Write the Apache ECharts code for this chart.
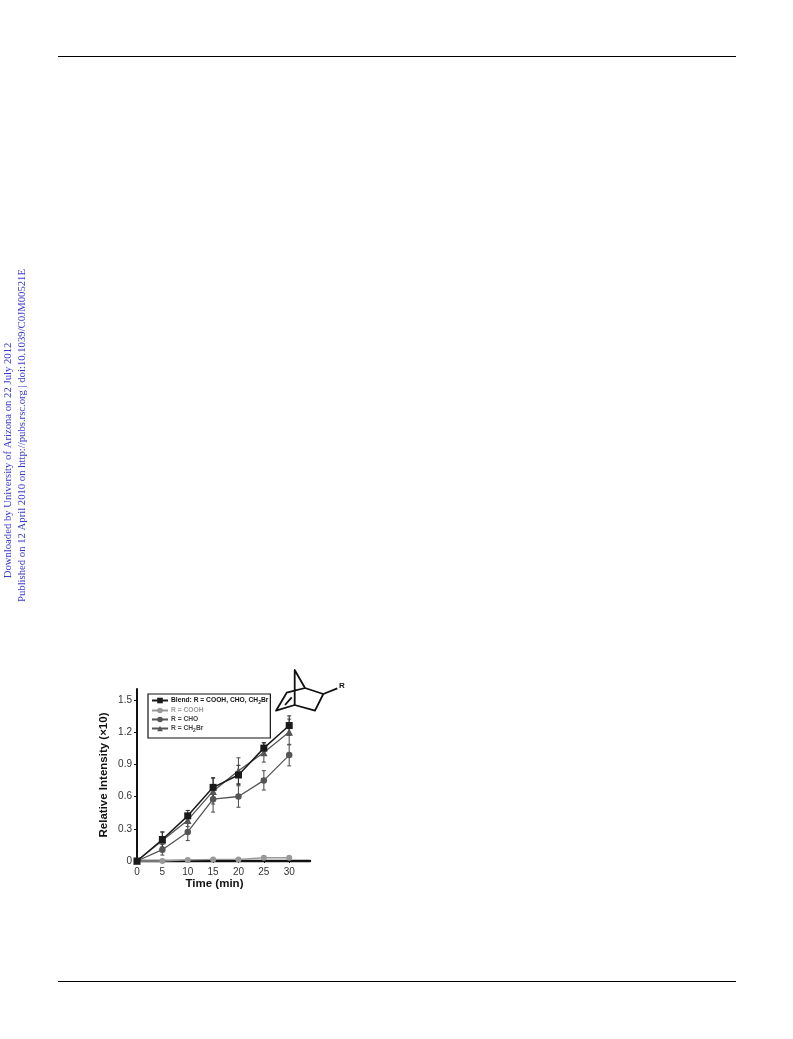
<!DOCTYPE html>
<html>
<head>
<meta charset="utf-8">
<style>html,body{margin:0;padding:0;background:#fff}#c{width:793px;height:1039px}</style>
<script src="https://cdn.jsdelivr.net/npm/echarts@6/dist/echarts.min.js"></script>
</head>
<body>
<div id="c"></div>
<script>
const times = [0, 5, 10, 15, 20, 25, 30];
const yTicks = [0, 0.3, 0.6, 0.9, 1.2, 1.5];
const blend = [0, 0.2, 0.42, 0.685, 0.8, 1.05, 1.26];
const cooh = [0, 0, 0.01, 0.015, 0.015, 0.03, 0.03];
const cho = [0, 0.105, 0.27, 0.575, 0.6, 0.75, 0.985];
const ch2br = [0, 0.19, 0.38, 0.65, 0.84, 1.01, 1.2];
const blendErr = [0, 0.07, 0.05, 0.09, 0.09, 0.05, 0.09];
const choErr = [0, 0.05, 0.08, 0.12, 0.1, 0.09, 0.1];
const ch2brErr = [0, 0.08, 0.06, 0.12, 0.12, 0.09, 0.12];
const names = ['Blend: R = COOH, CHO, CH2Br', 'R = COOH', 'R = CHO', 'R = CH2Br'];

const pairs = v => v.map((y, i) => [times[i], y]);
const errSeries = (vals, errs, color) => ({
  type: 'custom', silent: true, z: 2,
  data: vals.map((y, i) => [times[i], y - errs[i], y + errs[i]]).filter((d, i) => errs[i] > 0),
  renderItem(params, api) {
    const lo = api.coord([api.value(0), api.value(1)]);
    const hi = api.coord([api.value(0), api.value(2)]);
    const st = { stroke: color, lineWidth: 1.1 };
    return { type: 'group', children: [
      { type: 'line', shape: { x1: lo[0], y1: lo[1], x2: hi[0], y2: hi[1] }, style: st },
      { type: 'line', shape: { x1: lo[0] - 2, y1: lo[1], x2: lo[0] + 2, y2: lo[1] }, style: st },
      { type: 'line', shape: { x1: hi[0] - 2, y1: hi[1], x2: hi[0] + 2, y2: hi[1] }, style: st }
    ]};
  }
});
const lineSeries = (name, vals, color, symbol, size, width, z) => ({
  type: 'line', name, data: pairs(vals), symbol, symbolSize: size, z,
  showSymbol: true, animation: false, clip: false,
  lineStyle: { color, width }, itemStyle: { color }
});
const legendRich = c => ({
  n: { color: c, fontSize: 6.7, fontWeight: 'bold', fontFamily: 'Liberation Sans' },
  s: { color: c, fontSize: 5, fontWeight: 'bold', fontFamily: 'Liberation Sans', verticalAlign: 'bottom', padding: [4, 0, 0, 0] }
});
const bond = (pts, w) => ({
  type: 'polyline', silent: true, shape: { points: pts },
  style: { stroke: '#111', lineWidth: w || 1.8, fill: null, lineJoin: 'round' }
});
const sideText = (text, x, y) => ({
  type: 'text', x, y, rotation: Math.PI / 2, silent: true,
  style: { text, fill: '#3a3ad0', font: '10.7px "Liberation Serif"', align: 'center', verticalAlign: 'middle' }
});

const chart = echarts.init(document.getElementById('c'), null, { renderer: 'canvas' });
chart.setOption({
  animation: false,
  backgroundColor: '#fff',
  grid: { left: 137, top: 689, width: 173, height: 172, containLabel: false },
  xAxis: {
    type: 'value', min: 0, max: 34.1, interval: 5,
    name: 'Time (min)', nameLocation: 'middle', nameGap: 17,
    nameTextStyle: { color: '#111', fontSize: 11.5, fontWeight: 'bold', fontFamily: 'Liberation Sans', padding: [0, 18, 0, 0] },
    splitLine: { show: false },
    axisLine: { lineStyle: { color: '#111', width: 2.4 } },
    axisTick: { length: 2, lineStyle: { color: '#111', width: 1 }, customValues: times },
    axisLabel: { color: '#333', fontSize: 10, margin: 6, fontFamily: 'Liberation Sans', customValues: times }
  },
  yAxis: {
    type: 'value', min: 0, max: 1.6, interval: 0.3,
    name: 'Relative Intensity (\u00d710)', nameLocation: 'middle', nameGap: 27,
    nameTextStyle: { color: '#111', fontSize: 11.5, fontWeight: 'bold', fontFamily: 'Liberation Sans' },
    splitLine: { show: false },
    axisLine: { lineStyle: { color: '#111', width: 2 } },
    axisTick: { length: 3, lineStyle: { color: '#111', width: 1 }, customValues: yTicks },
    axisLabel: { color: '#333', fontSize: 10, margin: 5, fontFamily: 'Liberation Sans', customValues: yTicks,
      formatter: v => v === 0 ? '0' : v.toFixed(1) }
  },
  legend: {
    orient: 'vertical', left: 148, top: 694, padding: [3, 2, 5, 3], itemGap: 2,
    itemWidth: 16, itemHeight: 7,
    borderColor: '#111', borderWidth: 1.2, backgroundColor: '#fff', selectedMode: false, z: 5,
    data: names.map((name, i) => {
      const c = ['#111', '#999', '#444', '#444'][i];
      return { name, textStyle: { rich: legendRich(c), color: c } };
    }),
    formatter: name => name.includes('CH2Br')
      ? '{n|' + name.replace('CH2Br', 'CH}{s|2}{n|Br') + '}'
      : '{n|' + name + '}',
    textStyle: { padding: [0, 0, 0, -2] }
  },
  series: [
    errSeries(ch2br, ch2brErr, '#555'),
    errSeries(cho, choErr, '#555'),
    errSeries(blend, blendErr, '#333'),
    lineSeries(names[1], cooh, '#999', 'circle', 6, 1.4, 3),
    lineSeries(names[3], ch2br, '#555', 'triangle', 7.5, 1.3, 4),
    lineSeries(names[2], cho, '#555', 'circle', 6.5, 1.3, 4),
    lineSeries(names[0], blend, '#1a1a1a', 'rect', 7, 1.5, 5)
  ],
  graphic: { elements: [
    { type: 'line', silent: true, shape: { x1: 58, y1: 56.5, x2: 736, y2: 56.5 }, style: { stroke: '#000', lineWidth: 1 } },
    { type: 'line', silent: true, shape: { x1: 58, y1: 981.5, x2: 736, y2: 981.5 }, style: { stroke: '#000', lineWidth: 1 } },
    sideText('Downloaded by University of Arizona on 22 July 2012', 8, 460.5),
    sideText('Published on 12 April 2010 on http://pubs.rsc.org | doi:10.1039/C0JM00521E', 22.5, 435.5),
    bond([[294.7, 705], [294.7, 670], [305, 688], [323.3, 694], [315, 710.7], [294.7, 705], [276, 710.7], [286.7, 692.7], [305, 688]]),
    bond([[323.3, 694], [337.3, 688.3]]),
    bond([[285, 705], [291.7, 697.3]]),
    { type: 'text', silent: true, x: 339, y: 682, style: { text: 'R', fill: '#111', font: 'bold 8px "Liberation Sans"' } }
  ] }
});
</script>
</body>
</html>
